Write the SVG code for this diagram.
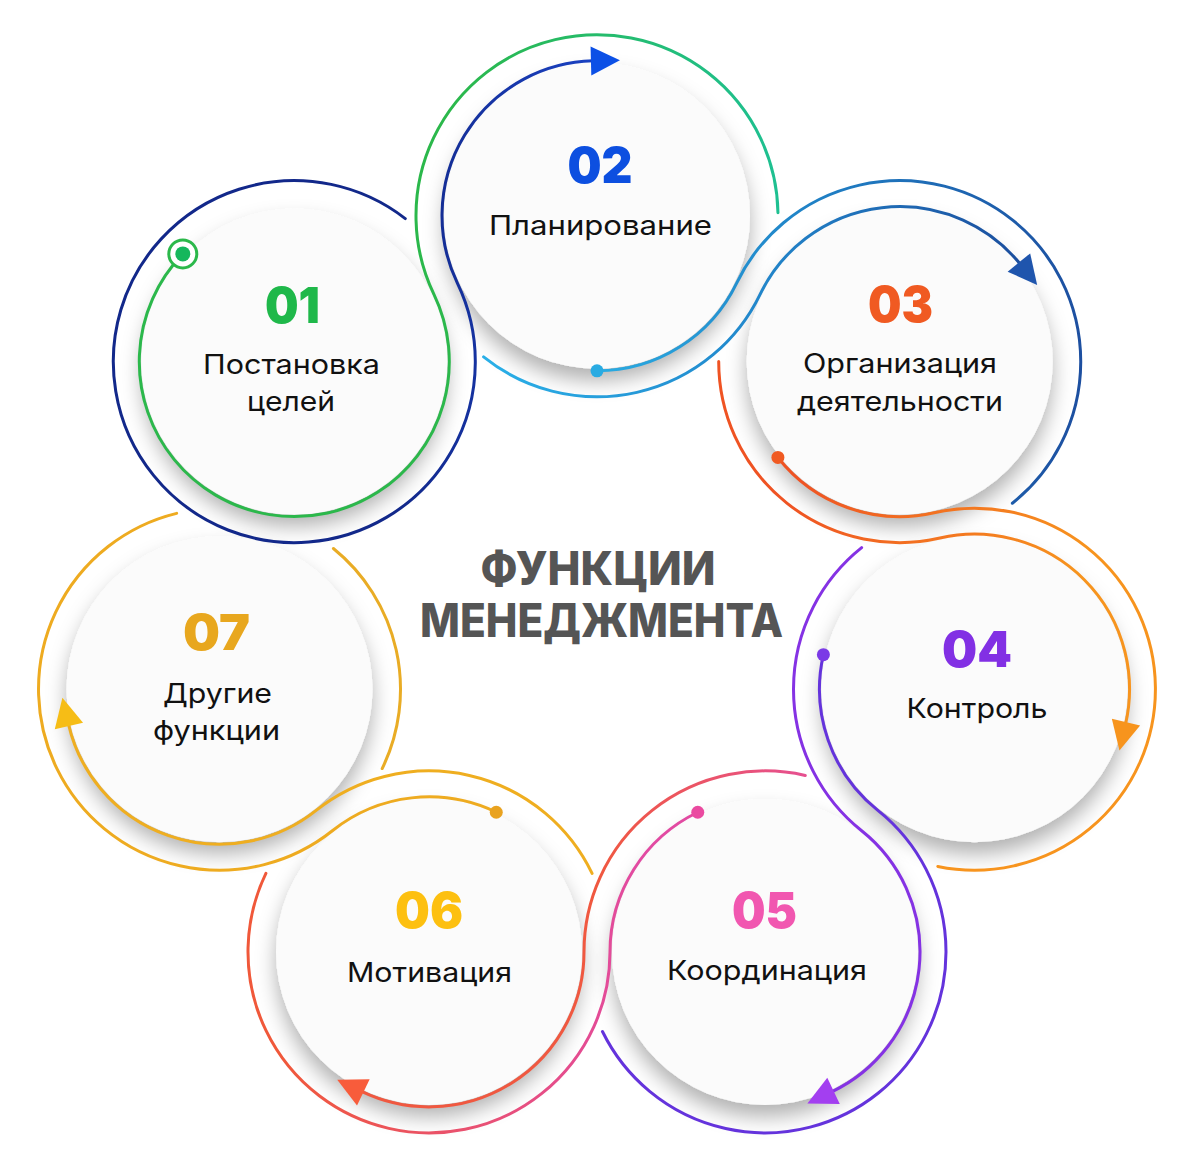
<svg xmlns="http://www.w3.org/2000/svg" width="1200" height="1164" viewBox="0 0 1200 1164">
<style>
.disc{fill:#fbfbfb;filter:url(#sh)}
.num{font-family:"Inter","Noto Sans","DejaVu Sans",sans-serif;font-weight:900;font-size:50px;text-anchor:middle}
.lbl{font-family:"Inter","Noto Sans","DejaVu Sans",sans-serif;font-weight:400;font-size:27px;fill:#111;text-anchor:middle}
.ttl{font-family:"Inter","Noto Sans","DejaVu Sans",sans-serif;font-weight:800;font-size:46px;fill:#555;text-anchor:middle}
.ln{fill:none;stroke-width:3;stroke-linecap:round}
</style>
<defs>
<filter id="sh" x="-30%" y="-30%" width="160%" height="170%">
<feDropShadow dx="0" dy="12" stdDeviation="10" flood-color="#000" flood-opacity="0.3"/>
</filter>
<polygon id="ah" points="-2,-14.5 27,0 -2,14.5"/>
<linearGradient id="gG" gradientUnits="userSpaceOnUse" x1="450" y1="0" x2="780" y2="0"><stop offset="0" stop-color="#2bb84b"/><stop offset="1" stop-color="#1ec092"/></linearGradient>
<linearGradient id="gN" gradientUnits="userSpaceOnUse" x1="400" y1="0" x2="600" y2="0"><stop offset="0" stop-color="#12288a"/><stop offset="1" stop-color="#1a42c4"/></linearGradient>
<linearGradient id="gL1" gradientUnits="userSpaceOnUse" x1="600" y1="0" x2="1080" y2="0"><stop offset="0" stop-color="#29abe2"/><stop offset="0.5" stop-color="#1f7cc2"/><stop offset="1" stop-color="#1d4fa0"/></linearGradient>
<linearGradient id="gL2" gradientUnits="userSpaceOnUse" x1="480" y1="0" x2="1020" y2="0"><stop offset="0" stop-color="#2ab0e8"/><stop offset="0.5" stop-color="#2288cc"/><stop offset="1" stop-color="#1b4e9e"/></linearGradient>
<linearGradient id="gO" gradientUnits="userSpaceOnUse" x1="800" y1="480" x2="1050" y2="620"><stop offset="0" stop-color="#ef5323"/><stop offset="1" stop-color="#f7941e"/></linearGradient>
<linearGradient id="gK1" gradientUnits="userSpaceOnUse" x1="640" y1="0" x2="280" y2="0"><stop offset="0" stop-color="#e24aa2"/><stop offset="1" stop-color="#f0583a"/></linearGradient>
<linearGradient id="gK2" gradientUnits="userSpaceOnUse" x1="800" y1="0" x2="600" y2="0"><stop offset="0" stop-color="#e6508f"/><stop offset="1" stop-color="#f05840"/></linearGradient>
</defs>
<rect width="1200" height="1164" fill="#ffffff"/>

<g id="node01">
<circle class="disc" cx="294.3" cy="361.6" r="153"/>
<text class="num" x="292.5" y="323" fill="#1fb84a" textLength="55" lengthAdjust="spacingAndGlyphs">01</text>
<text class="lbl" x="291.5" y="374" textLength="177" lengthAdjust="spacingAndGlyphs">Постановка</text>
<text class="lbl" x="291" y="411" textLength="88" lengthAdjust="spacingAndGlyphs">целей</text>
</g>
<g id="node02">
<circle class="disc" cx="597" cy="215.8" r="153"/>
<text class="num" x="600" y="183" fill="#0d4fe0" textLength="65" lengthAdjust="spacingAndGlyphs">02</text>
<text class="lbl" x="600.5" y="235" textLength="223" lengthAdjust="spacingAndGlyphs">Планирование</text>
</g>
<g id="node03">
<circle class="disc" cx="899.7" cy="361.6" r="153"/>
<text class="num" x="900.5" y="322" fill="#f05a22" textLength="65" lengthAdjust="spacingAndGlyphs">03</text>
<text class="lbl" x="900" y="373" textLength="194" lengthAdjust="spacingAndGlyphs">Организация</text>
<text class="lbl" x="900" y="411" textLength="206" lengthAdjust="spacingAndGlyphs">деятельности</text>
</g>
<g id="node04">
<circle class="disc" cx="974.5" cy="689.2" r="153"/>
<text class="num" x="977" y="667" fill="#8230e4" textLength="70" lengthAdjust="spacingAndGlyphs">04</text>
<text class="lbl" x="977" y="718" textLength="141" lengthAdjust="spacingAndGlyphs">Контроль</text>
</g>
<g id="node05">
<circle class="disc" cx="765" cy="951.9" r="153"/>
<text class="num" x="764.5" y="928" fill="#f157b0" textLength="65" lengthAdjust="spacingAndGlyphs">05</text>
<text class="lbl" x="767" y="980" textLength="200" lengthAdjust="spacingAndGlyphs">Координация</text>
</g>
<g id="node06">
<circle class="disc" cx="429" cy="951.9" r="153"/>
<text class="num" x="429" y="928" fill="#fdc010" textLength="68" lengthAdjust="spacingAndGlyphs">06</text>
<text class="lbl" x="429.5" y="982" textLength="165" lengthAdjust="spacingAndGlyphs">Мотивация</text>
</g>
<g id="node07">
<circle class="disc" cx="219.5" cy="689.2" r="153"/>
<text class="num" x="216.5" y="650" fill="#e8a71e" textLength="67" lengthAdjust="spacingAndGlyphs">07</text>
<text class="lbl" x="217.5" y="703" textLength="109" lengthAdjust="spacingAndGlyphs">Другие</text>
<text class="lbl" x="216.5" y="740" textLength="127" lengthAdjust="spacingAndGlyphs">функции</text>
</g>

<g id="title">
<text class="ttl" x="598" y="585" textLength="235" lengthAdjust="spacingAndGlyphs">ФУНКЦИИ</text>
<text class="ttl" x="601.5" y="637" textLength="363" lengthAdjust="spacingAndGlyphs">МЕНЕДЖМЕНТА</text>
</g>

<g id="connectors">
<path class="ln" stroke="url(#gG)" d="M182.8,253.9 A155,155 0 1 0 433.95,294.35 A181,181 0 1 1 777.97,212.64"/>
<path class="ln" stroke="url(#gN)" d="M405.27,218.61 A181,181 0 1 0 457.38,283.07 A155,155 0 0 1 592.94,60.85"/>
<path class="ln" stroke="url(#gL1)" d="M597,370.8 A155,155 0 0 0 736.65,283.05 A181,181 0 1 1 1012.37,503.25"/>
<path class="ln" stroke="url(#gL2)" d="M483.59,356.86 A181,181 0 0 0 760.08,294.33 A155,155 0 0 1 1020.16,264.06"/>
<path class="ln" stroke="url(#gO)" d="M777.9,457.45 A155,155 0 0 0 934.19,512.71 A181,181 0 1 1 937.8,866.44"/>
<path class="ln" stroke="url(#gO)" d="M718.7,361.6 A181,181 0 0 0 939.98,538.06 A155,155 0 0 1 1125.53,724.07"/>
<path class="ln" stroke="#6433dc" d="M823.39,654.68 A155,155 0 0 0 877.86,810.38 A181,181 0 1 1 602.46,1031.53"/>
<path class="ln" stroke="#8532e4" d="M861.65,547.69 A181,181 0 0 0 861.65,830.71 A155,155 0 0 1 831.73,1091.8"/>
<path class="ln" stroke="url(#gK1)" d="M697.75,812.25 A155,155 0 0 0 610,951.9 A181,181 0 1 1 265.9,873.41"/>
<path class="ln" stroke="url(#gK2)" d="M805.28,775.44 A181,181 0 0 0 584,951.9 A155,155 0 0 1 361.54,1091.45"/>
<path class="ln" stroke="#eeab20" d="M496.25,812.25 A155,155 0 0 0 332.36,830.72 A181,181 0 1 1 176.63,513.35"/>
<path class="ln" stroke="#efae20" d="M592.08,873.37 A181,181 0 0 0 316.15,810.39 A155,155 0 0 1 68.47,724.07"/>
<path class="ln" stroke="#e9ac25" d="M333.41,548.54 A181,181 0 0 1 382.18,768.55"/>

<use href="#ah" fill="#0c50e6" transform="translate(592.94,60.85) rotate(358.5)"/>
<use href="#ah" fill="#1f55ad" transform="translate(1020.16,264.06) rotate(51)"/>
<use href="#ah" fill="#f7941d" transform="translate(1125.53,724.07) rotate(103)"/>
<use href="#ah" fill="#a33ff0" transform="translate(831.73,1091.8) rotate(154.5)"/>
<use href="#ah" fill="#f85c3b" transform="translate(361.54,1091.45) rotate(205.8)"/>
<use href="#ah" fill="#f6bd16" transform="translate(68.47,724.07) rotate(257)"/>

<circle cx="182.8" cy="253.9" r="14" fill="#ffffff" stroke="#2bb84a" stroke-width="3"/>
<circle cx="182.8" cy="253.9" r="7.5" fill="#16b75c"/>
<circle cx="597" cy="370.8" r="6.5" fill="#29abe2"/>
<circle cx="777.9" cy="457.45" r="6.5" fill="#f05a22"/>
<circle cx="823.39" cy="654.68" r="6.5" fill="#7b3ae6"/>
<circle cx="697.75" cy="812.25" r="6.5" fill="#ea4aa0"/>
<circle cx="496.25" cy="812.25" r="6.5" fill="#e9a21f"/>
</g>
</svg>
